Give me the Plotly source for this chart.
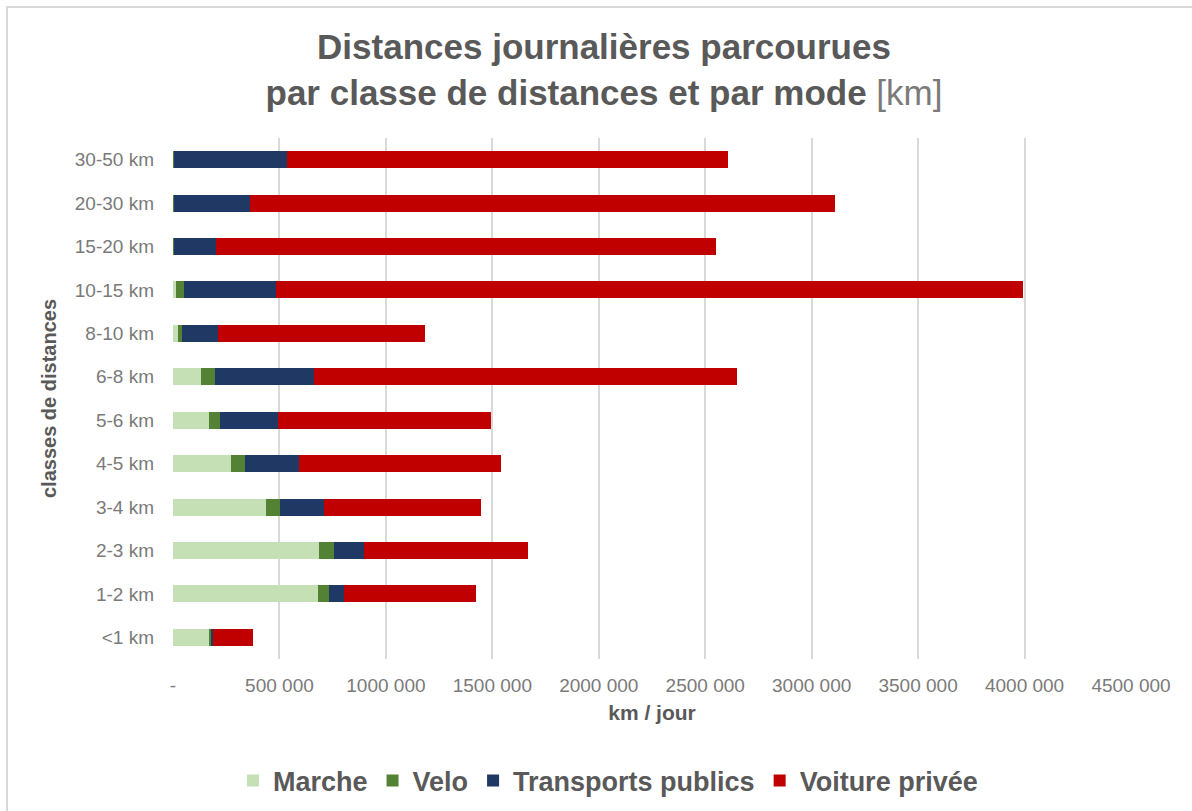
import plotly.graph_objects as go

categories = ["<1 km", "1-2 km", "2-3 km", "3-4 km", "4-5 km", "5-6 km",
              "6-8 km", "8-10 km", "10-15 km", "15-20 km", "20-30 km", "30-50 km"]

marche = [171000, 679000, 686000, 435000, 274000, 168000, 130000, 23000, 16000, 3000, 3000, 3000]
velo = [9000, 52000, 70000, 66000, 66000, 51000, 66000, 21000, 34000, 2000, 2000, 2000]
transports_publics = [10000, 70000, 141000, 210000, 252000, 274000, 465000, 169000, 432000, 199000, 355000, 530000]
voiture_privee = [184000, 620000, 770000, 737000, 947000, 1002000, 1989000, 972000, 3512000, 2346000, 2750000, 2074000]

tick_values = [0, 500000, 1000000, 1500000, 2000000, 2500000, 3000000, 3500000, 4000000, 4500000]
tick_labels = ["-", "500 000", "1000 000", "1500 000", "2000 000", "2500 000",
               "3000 000", "3500 000", "4000 000", "4500 000"]

series = [
    ("Marche", marche, "#c5e0b4"),
    ("Velo", velo, "#548235"),
    ("Transports publics", transports_publics, "#1f3864"),
    ("Voiture privée", voiture_privee, "#c00000"),
]

FONT = "Liberation Sans, Arial, sans-serif"
DARK = "#595959"
LIGHT = "#7a7a7a"

fig = go.Figure()
for name, vals, col in series:
    fig.add_trace(go.Bar(
        y=categories, x=vals, name=name, orientation="h",
        marker=dict(color=col, line=dict(width=0)),
    ))

W, H = 1192, 811
L, R, T, B = 173, 61, 138, 152
pw = W - L - R
ph = H - T - B


def px2x(px):
    return (px - L) / pw


def py2y(py):
    return (H - B - py) / ph


fig.update_layout(
    width=W, height=H,
    barmode="stack",
    bargap=0.61,
    paper_bgcolor="white",
    plot_bgcolor="white",
    margin=dict(l=L, r=R, t=T, b=B, autoexpand=False),
    font=dict(family=FONT, color=DARK),
    title=dict(
        text="<b>Distances journalières parcourues<br>par classe de distances et par mode</b> <span style='color:#7a7a7a'>[km]</span>",
        x=px2x(604), xref="paper", xanchor="center",
        y=1 - 59 / H, yref="container", yanchor="top",
        font=dict(family=FONT, size=35, color=DARK),
    ),
    xaxis=dict(
        range=[0, 4500000],
        tickvals=tick_values, ticktext=tick_labels,
        showgrid=True, gridcolor="#d9d9d9", gridwidth=1.5,
        zeroline=False, showline=False,
        ticks="", ticklabelstandoff=13,
        tickfont=dict(family=FONT, size=19, color=LIGHT),
        title=dict(text="<b>km / jour</b>", standoff=10,
                   font=dict(family=FONT, size=21, color=DARK)),
        fixedrange=True,
    ),
    yaxis=dict(
        categoryorder="array", categoryarray=categories,
        showgrid=False, zeroline=False, showline=False,
        ticks="", ticklabelstandoff=18,
        tickfont=dict(family=FONT, size=19, color=LIGHT),
        title=dict(text="<b>classes de distances</b>", standoff=12,
                   font=dict(family=FONT, size=20, color=DARK)),
        fixedrange=True,
    ),
    legend=dict(
        orientation="h",
        x=px2x(608), xanchor="center",
        y=py2y(781), yanchor="middle",
        font=dict(family=FONT, size=27, color=DARK, weight="bold"),
        traceorder="normal",
        itemclick=False, itemdoubleclick=False,
    ),
    shapes=[dict(
        type="rect", xref="paper", yref="paper",
        x0=px2x(7), x1=px2x(1300), y0=py2y(1000), y1=py2y(7),
        line=dict(color="#d9d9d9", width=2), fillcolor="rgba(0,0,0,0)",
        layer="below",
    )],
)

fig.write_html("out.html")
